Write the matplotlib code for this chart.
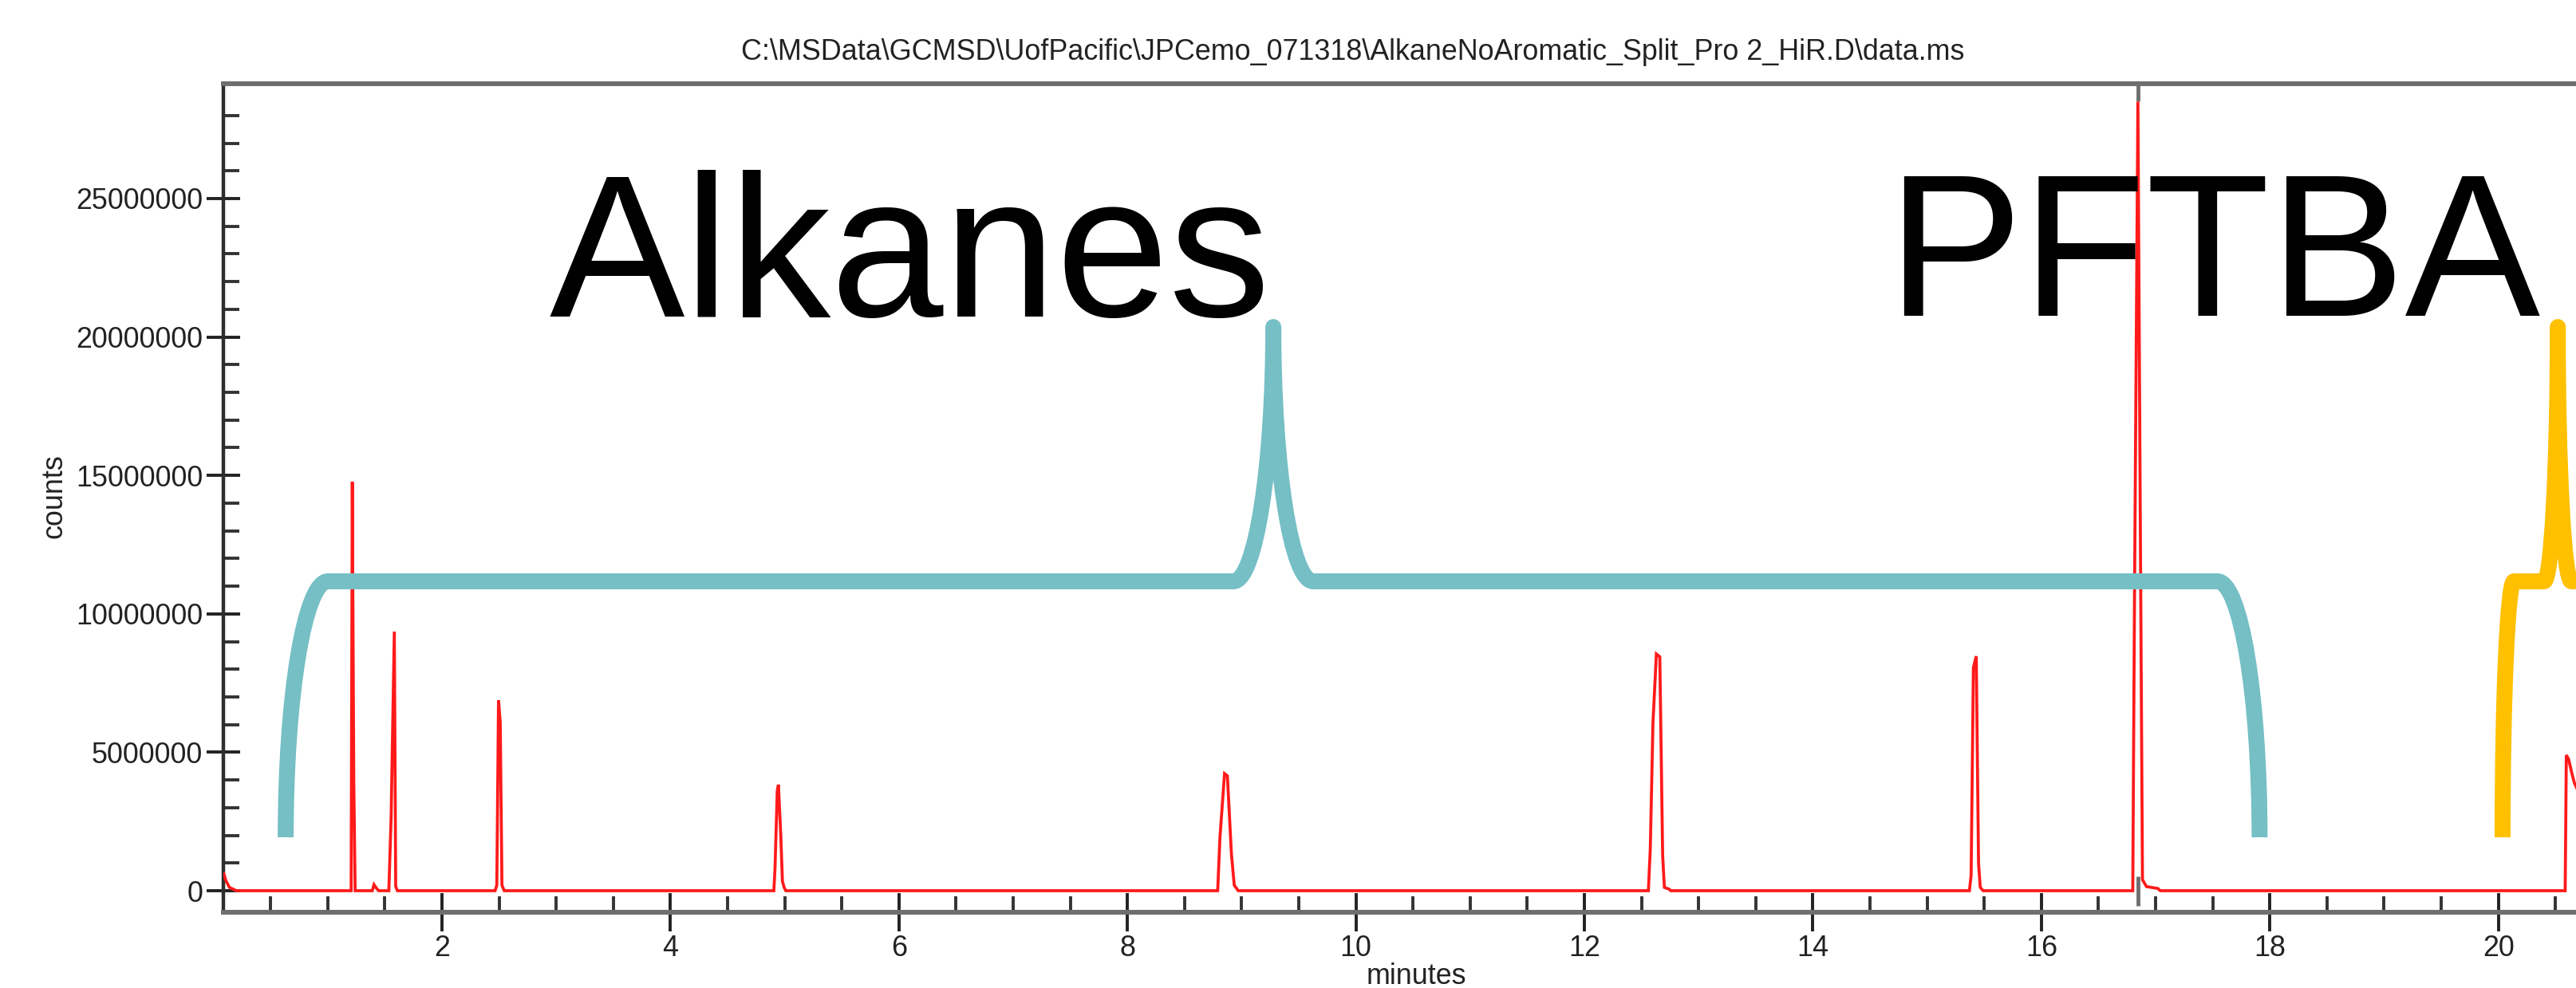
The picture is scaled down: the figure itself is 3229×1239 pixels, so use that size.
import matplotlib
matplotlib.use("Agg")
import matplotlib.pyplot as plt
from matplotlib.path import Path
from matplotlib.patches import PathPatch
from matplotlib.ticker import FixedLocator, NullFormatter

# ---------------- data ----------------
# chromatogram vertices (minutes, counts)
times = [0.09, 0.11, 0.14, 0.20,
         1.19, 1.205, 1.215, 1.228, 1.24,
         1.39, 1.405, 1.425, 1.445,
         1.535, 1.555, 1.583, 1.595, 1.61,
         2.465, 2.48, 2.495, 2.51, 2.525, 2.545,
         4.905, 4.915, 4.935, 4.945, 4.965, 4.98, 4.995, 5.01,
         8.79, 8.81, 8.85, 8.875, 8.91, 8.935, 8.97,
         12.56, 12.577, 12.60, 12.63, 12.66, 12.685, 12.70, 12.745, 12.755,
         15.37, 15.385, 15.405, 15.43, 15.45, 15.465, 15.49,
         16.80, 16.815, 16.845, 16.87, 16.885, 16.92, 17.02, 17.04,
         20.585, 20.595, 20.615, 20.64, 20.665, 20.72]
counts = [620000, 350000, 120000, 0,
          0, 0, 14770000, 3950000, 0,
          0, 220000, 100000, 0,
          0, 2660000, 9360000, 150000, 0,
          0, 200000, 6880000, 6080000, 200000, 0,
          0, 790000, 3610000, 3830000, 2060000, 350000, 120000, 0,
          0, 1930000, 4230000, 4150000, 1350000, 200000, 0,
          0, 1550000, 6050000, 8550000, 8450000, 1270000, 120000, 50000, 0,
          0, 550000, 8060000, 8470000, 980000, 120000, 0,
          0, 10480000, 28500000, 10480000, 400000, 150000, 80000, 0,
          0, 4900000, 4750000, 4300000, 3900000, 3400000]

# data-system cursor line: time and the visible count spans
cursor_time = 16.848
cursor_spans = [(-550000, 520000), (28500000, 29200000)]

ytick_values = [0, 5000000, 10000000, 15000000, 20000000, 25000000]
ytick_labels = ["0", "5000000", "10000000", "15000000", "20000000", "25000000"]
xtick_values = [2, 4, 6, 8, 10, 12, 14, 16, 18, 20]
xtick_labels = ["2", "4", "6", "8", "10", "12", "14", "16", "18", "20"]

title_text = r"C:\MSData\GCMSD\UofPacific\JPCemo_071318\AlkaneNoAromatic_Split_Pro 2_HiR.D\data.ms"
x_label = "minutes"
y_label = "counts"

# braces: (left, right, tip, bar level, foot level, tip top, corner width, tip width)
alkane_brace = (0.632, 17.91, 9.277, 11175000, 1930000, 20360000, 0.37, 0.35)
pftba_brace = (20.037, 21.0, 20.52, 11175000, 1930000, 20360000, 0.10, 0.12)
alkane_label = ("Alkanes", 2.94, 20740000)
pftba_label = ("PFTBA", 14.65, 20770000)

# ---------------- style ----------------
RED = "#ff1a1a"
TEAL = "#75bfc5"
ORANGE = "#ffc000"
FONT = ["Liberation Sans", "DejaVu Sans"]
plt.rcParams["font.family"] = FONT

W, H = 3229, 1239
fig = plt.figure(figsize=(W / 100, H / 100), dpi=100, facecolor="white")
ax = fig.add_axes([280 / W, 1 - 1144 / H, 2990 / W, 1039 / H])

ax.plot(times, counts, color=RED, lw=2.7, zorder=3, solid_joinstyle="miter")
for lo, hi in cursor_spans:
    ax.plot([cursor_time, cursor_time], [lo, hi], color="#6e6e6e",
            lw=3.5, zorder=2.5, solid_capstyle="butt")

ax.set_xlim(0.0866, 20.966)
ax.set_ylim(-777600, 29147000)


def brace(params, color):
    left, right, tip, bar, foot, top, cw, tw = params
    k = 0.5523
    verts = [
        (left, foot),
        (left, foot + k * (bar - foot)), (left + cw - k * cw, bar), (left + cw, bar),
        (tip - tw, bar),
        (tip - tw + k * tw, bar), (tip, top - k * (top - bar)), (tip, top),
        (tip, top - k * (top - bar)), (tip + tw - k * tw, bar), (tip + tw, bar),
        (right - cw, bar),
        (right - cw + k * cw, bar), (right, foot + k * (bar - foot)), (right, foot),
    ]
    codes = ([Path.MOVETO] + [Path.CURVE4] * 3 + [Path.LINETO] + [Path.CURVE4] * 6
             + [Path.LINETO] + [Path.CURVE4] * 3)
    patch = PathPatch(Path(verts, codes), fill=False, edgecolor=color, lw=14.4,
                      capstyle="butt", joinstyle="round", zorder=4)
    ax.add_patch(patch)


brace(alkane_brace, TEAL)
brace(pftba_brace, ORANGE)

for txt, x, y in (alkane_label, pftba_label):
    ax.text(x, y, txt, fontsize=183, color="black", ha="left", va="baseline",
            zorder=5, family=FONT)

# ticks
ax.xaxis.set_major_locator(FixedLocator(xtick_values))
ax.set_xticklabels(xtick_labels)
minor_x = [v * 0.5 for v in range(1, 42) if v % 4]
ax.xaxis.set_minor_locator(FixedLocator(minor_x))
ax.yaxis.set_major_locator(FixedLocator(ytick_values))
ax.set_yticklabels(ytick_labels)
minor_y = [v * 1e6 for v in range(1, 29) if v % 5]
ax.yaxis.set_minor_locator(FixedLocator(minor_y))
ax.xaxis.set_minor_formatter(NullFormatter())
ax.yaxis.set_minor_formatter(NullFormatter())

ax.tick_params(axis="x", which="major", direction="inout", length=35, width=2.8,
               color="#222222", labelsize=25.8, labelcolor="#222222", pad=3)
ax.tick_params(axis="x", which="minor", direction="in", length=14.4, width=2.8,
               color="#333333")
ax.tick_params(axis="y", which="major", direction="inout", length=30, width=2.8,
               color="#222222", labelsize=25.8, labelcolor="#222222", pad=3.5)
ax.tick_params(axis="y", which="minor", direction="in", length=14.4, width=2.8,
               color="#333333")
ax.tick_params(top=False, right=False)

for s in ("top", "bottom"):
    ax.spines[s].set_linewidth(4.3)
    ax.spines[s].set_color("#6e6e6e")
ax.spines["left"].set_linewidth(3.2)
ax.spines["left"].set_color("#2e2e2e")
ax.spines["right"].set_visible(False)

ax.set_xlabel(x_label, fontsize=25.8, color="#222222")
ax.xaxis.label.set_va("baseline")
ax.xaxis.set_label_coords(0.5, -(1234 - 1144) / 1039)
ax.set_ylabel(y_label, fontsize=25.8, color="#222222")
ax.yaxis.label.set_va("center")
ax.yaxis.set_label_coords(-(280 - 68) / 2990, (1144 - 622) / 1039)

fig.text(1696 / W, 1 - 75 / H, title_text, ha="center", va="baseline",
         fontsize=25.8, color="#222222")

fig.savefig("out.png", dpi=100, facecolor="white")
